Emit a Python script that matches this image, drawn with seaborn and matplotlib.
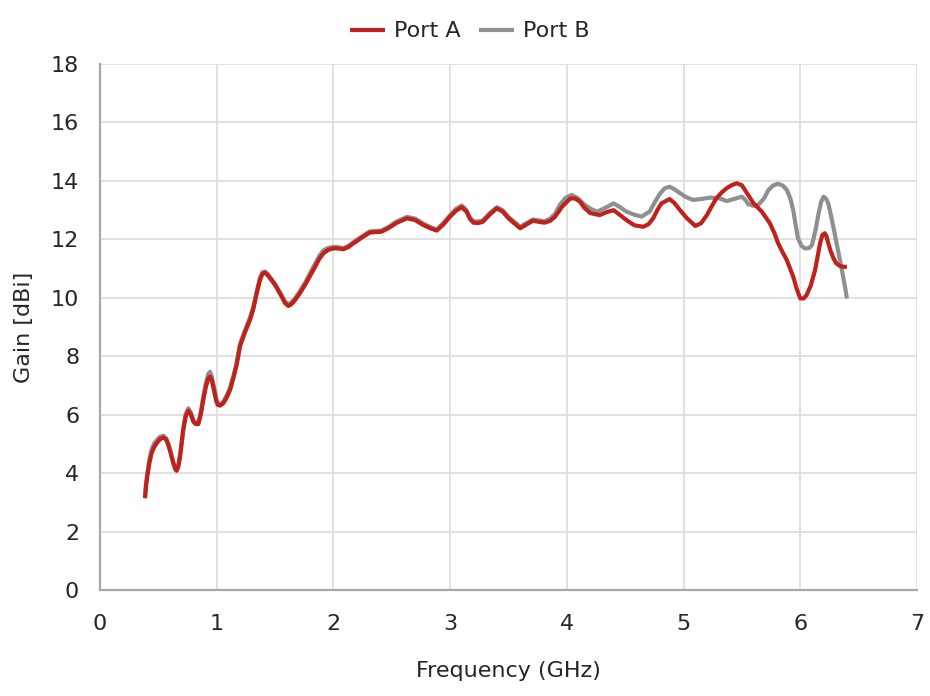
import numpy as np
import pandas as pd
import matplotlib
matplotlib.use("Agg")
import matplotlib.pyplot as plt
import seaborn as sns

# Port A (red) - frequency in GHz, gain in dBi
freq_a = [0.386, 0.394, 0.405, 0.423, 0.442, 0.463, 0.485, 0.514, 0.543, 0.566,
          0.586, 0.606, 0.628, 0.648, 0.657, 0.671, 0.686, 0.700, 0.714, 0.734,
          0.757, 0.777, 0.800, 0.820, 0.843, 0.863, 0.885, 0.908, 0.928, 0.943,
          0.957, 0.977, 0.994, 1.008, 1.028, 1.057, 1.086, 1.114, 1.143, 1.171,
          1.200, 1.243, 1.285, 1.314, 1.343, 1.371, 1.392, 1.414, 1.440, 1.470,
          1.500, 1.530, 1.557, 1.585, 1.614, 1.640, 1.671, 1.715, 1.757, 1.800,
          1.843, 1.880, 1.914, 1.955, 2.000, 2.040, 2.085, 2.130, 2.170, 2.240,
          2.310, 2.360, 2.410, 2.470, 2.540, 2.630, 2.700, 2.770, 2.830, 2.885,
          2.940, 3.000, 3.050, 3.100, 3.140, 3.170, 3.200, 3.240, 3.280, 3.340,
          3.400, 3.450, 3.500, 3.550, 3.600, 3.650, 3.710, 3.760, 3.810, 3.860,
          3.900, 3.960, 4.030, 4.070, 4.110, 4.150, 4.200, 4.280, 4.340, 4.400,
          4.450, 4.510, 4.580, 4.655, 4.700, 4.740, 4.775, 4.810, 4.880, 4.920,
          4.970, 5.030, 5.100, 5.150, 5.200, 5.240, 5.280, 5.330, 5.370, 5.410,
          5.455, 5.500, 5.540, 5.600, 5.670, 5.740, 5.780, 5.810, 5.850, 5.885,
          5.940, 5.970, 6.000, 6.030, 6.055, 6.090, 6.127, 6.150, 6.170, 6.190,
          6.210, 6.225, 6.240, 6.260, 6.285, 6.310, 6.340, 6.370, 6.400]
gain_a = [3.14, 3.54, 3.88, 4.34, 4.68, 4.88, 5.02, 5.16, 5.22, 5.16,
          4.96, 4.68, 4.34, 4.11, 4.08, 4.22, 4.56, 5.02, 5.48, 5.93,
          6.14, 6.02, 5.76, 5.68, 5.68, 5.99, 6.50, 6.96, 7.24, 7.30,
          7.19, 6.84, 6.50, 6.34, 6.31, 6.39, 6.59, 6.84, 7.25, 7.70,
          8.35, 8.82, 9.24, 9.62, 10.15, 10.61, 10.82, 10.86, 10.76, 10.60,
          10.44, 10.23, 10.04, 9.82, 9.72, 9.78, 9.92, 10.17, 10.44, 10.75,
          11.06, 11.34, 11.52, 11.64, 11.69, 11.69, 11.66, 11.74, 11.86, 12.05,
          12.23, 12.25, 12.26, 12.38, 12.56, 12.72, 12.66, 12.49, 12.38, 12.30,
          12.50, 12.78, 12.98, 13.10, 12.95, 12.70, 12.57, 12.56, 12.60, 12.85,
          13.06, 12.95, 12.72, 12.55, 12.38, 12.50, 12.64, 12.60, 12.57, 12.64,
          12.78, 13.12, 13.40, 13.40, 13.30, 13.08, 12.90, 12.83, 12.93, 13.00,
          12.85, 12.66, 12.48, 12.43, 12.52, 12.72, 13.00, 13.23, 13.38, 13.25,
          13.00, 12.72, 12.46, 12.55, 12.83, 13.12, 13.40, 13.62, 13.75, 13.85,
          13.92, 13.85, 13.60, 13.23, 12.95, 12.55, 12.20, 11.87, 11.55, 11.29,
          10.72, 10.30, 9.98, 9.98, 10.10, 10.42, 10.95, 11.45, 11.87, 12.15,
          12.21, 12.10, 11.87, 11.60, 11.35, 11.17, 11.09, 11.06, 11.06]

# Port B (grey)
freq_b = [0.386, 0.394, 0.405, 0.423, 0.442, 0.463, 0.485, 0.514, 0.543, 0.566,
          0.586, 0.606, 0.628, 0.648, 0.657, 0.671, 0.686, 0.700, 0.714, 0.734,
          0.757, 0.777, 0.800, 0.820, 0.843, 0.863, 0.885, 0.908, 0.928, 0.943,
          0.957, 0.977, 0.994, 1.008, 1.028, 1.057, 1.086, 1.114, 1.143, 1.171,
          1.200, 1.243, 1.285, 1.314, 1.343, 1.371, 1.392, 1.414, 1.440, 1.470,
          1.500, 1.530, 1.557, 1.585, 1.614, 1.640, 1.671, 1.715, 1.757, 1.800,
          1.843, 1.880, 1.914, 1.955, 2.000, 2.040, 2.085, 2.130, 2.170, 2.240,
          2.310, 2.360, 2.410, 2.470, 2.540, 2.630, 2.700, 2.770, 2.830, 2.885,
          2.940, 3.000, 3.050, 3.100, 3.140, 3.170, 3.200, 3.240, 3.280, 3.340,
          3.400, 3.450, 3.500, 3.550, 3.600, 3.650, 3.710, 3.760, 3.810, 3.860,
          3.900, 3.940, 3.990, 4.040, 4.090, 4.140, 4.200, 4.260, 4.330, 4.400,
          4.450, 4.510, 4.580, 4.640, 4.710, 4.750, 4.800, 4.840, 4.880, 4.920,
          4.970, 5.020, 5.080, 5.150, 5.230, 5.310, 5.370, 5.430, 5.500, 5.530,
          5.555, 5.600, 5.640, 5.690, 5.727, 5.770, 5.810, 5.850, 5.885, 5.915,
          5.940, 5.960, 5.980, 6.010, 6.040, 6.075, 6.100, 6.130, 6.157, 6.180,
          6.200, 6.220, 6.240, 6.270, 6.300, 6.330, 6.357, 6.380, 6.400]
gain_b = [3.20, 3.62, 3.98, 4.45, 4.80, 5.00, 5.12, 5.24, 5.28, 5.20,
          5.00, 4.72, 4.38, 4.15, 4.12, 4.27, 4.62, 5.10, 5.56, 6.02,
          6.22, 6.08, 5.82, 5.74, 5.74, 6.08, 6.62, 7.10, 7.40, 7.47,
          7.32, 6.95, 6.58, 6.40, 6.36, 6.45, 6.66, 6.92, 7.32, 7.78,
          8.43, 8.90, 9.32, 9.70, 10.22, 10.68, 10.88, 10.90, 10.80, 10.64,
          10.48, 10.27, 10.08, 9.88, 9.78, 9.84, 9.98, 10.24, 10.52, 10.84,
          11.16, 11.44, 11.62, 11.71, 11.74, 11.73, 11.70, 11.78, 11.90, 12.09,
          12.27, 12.29, 12.30, 12.42, 12.61, 12.77, 12.71, 12.54, 12.42, 12.34,
          12.55, 12.83, 13.04, 13.16, 13.00, 12.75, 12.62, 12.61, 12.65, 12.90,
          13.10, 13.00, 12.77, 12.60, 12.43, 12.55, 12.68, 12.65, 12.62, 12.72,
          12.88, 13.18, 13.42, 13.52, 13.42, 13.23, 13.05, 12.95, 13.08, 13.23,
          13.12, 12.95, 12.84, 12.78, 12.95, 13.25, 13.58, 13.75, 13.80, 13.72,
          13.58, 13.45, 13.35, 13.38, 13.43, 13.40, 13.31, 13.38, 13.46, 13.35,
          13.20, 13.15, 13.18, 13.40, 13.69, 13.85, 13.90, 13.84, 13.69, 13.40,
          13.00, 12.50, 12.04, 11.78, 11.69, 11.70, 11.80, 12.30, 12.89, 13.30,
          13.46, 13.40, 13.23, 12.70, 12.09, 11.50, 10.95, 10.45, 9.98]

x_ticks = [0, 1, 2, 3, 4, 5, 6, 7]
y_ticks = [0, 2, 4, 6, 8, 10, 12, 14, 16, 18]

red = "#bf211b"
grey = "#8f8f8f"
txt = "#262626"

sns.set_theme(style="whitegrid")
plt.rcParams["font.family"] = ["DejaVu Sans"]

df_a = pd.DataFrame({"freq": freq_a, "gain": gain_a})
df_b = pd.DataFrame({"freq": freq_b, "gain": gain_b})

fig = plt.figure(figsize=(9.3, 6.96), dpi=100)
ax = fig.add_axes([0.1075, 0.1523, 0.8785, 0.7557])

sns.lineplot(data=df_b, x="freq", y="gain", ax=ax, color=grey, lw=3,
             estimator=None, sort=False, label="Port B",
             solid_joinstyle="round", solid_capstyle="butt")
sns.lineplot(data=df_a, x="freq", y="gain", ax=ax, color=red, lw=3,
             estimator=None, sort=False, label="Port A",
             solid_joinstyle="round", solid_capstyle="butt")

ax.set_xlim(0, 7)
ax.set_ylim(0, 18)
ax.set_xticks(x_ticks)
ax.set_yticks(y_ticks)
ax.set_facecolor("white")
ax.grid(True, color="#dcdcdc", lw=1.2)
for s in ["top", "right"]:
    ax.spines[s].set_visible(False)
for s in ["left", "bottom"]:
    ax.spines[s].set_color("#a8a8a8")
    ax.spines[s].set_linewidth(1.6)
    ax.spines[s].set_zorder(3)
ax.tick_params(axis="both", length=14, width=1.2, color="#dcdcdc",
               labelsize=16, labelcolor=txt)
ax.tick_params(axis="x", pad=3)
ax.tick_params(axis="y", pad=1)

ax.set_xlabel("Frequency (GHz)", fontsize=16, color=txt, labelpad=20)
ax.set_ylabel("Gain [dBi]", fontsize=16, color=txt, labelpad=12)

h, l = ax.get_legend_handles_labels()
ax.legend([h[1], h[0]], [l[1], l[0]], loc="center", ncol=2,
          bbox_to_anchor=(0.505, 0.955), bbox_transform=fig.transFigure,
          frameon=False, fontsize=16, handlelength=1.6, handletextpad=0.4,
          columnspacing=0.8, labelcolor=txt)

fig.savefig("out.png", dpi=100)
